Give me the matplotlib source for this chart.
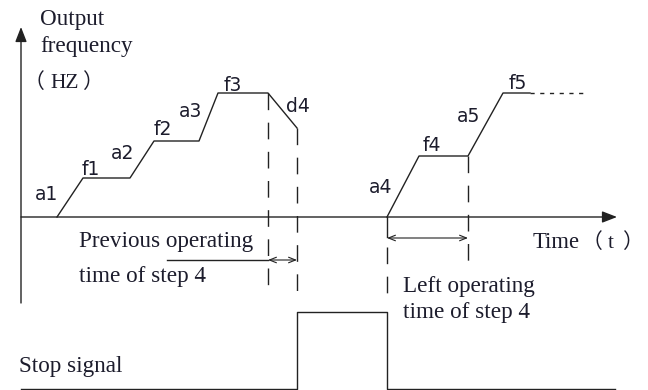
import matplotlib
matplotlib.use("Agg")
import matplotlib.pyplot as plt

# run before the stop signal (time, output frequency)
t_run1 = [36, 62, 109, 133, 178, 197, 247, 276]
f_run1 = [0, 39, 39, 76, 76, 124, 124, 89]
# run after restart
t_run2 = [366, 398, 447, 482, 509]
f_run2 = [0, 61, 61, 124, 124]
t_f5_cont = [509, 563]
f_f5_cont = [124, 124]
# stop signal
t_stop = [0, 276, 276, 366, 366, 594]
v_stop = [-172, -172, -95, -95, -172, -172]

# step labels: (text, time, baseline)
step_labels = ["a1", "f1", "a2", "f2", "a3", "f3", "d4", "a4", "f4", "a5", "f5"]
step_t = [26, 70, 102, 142, 170, 212, 277, 360, 411, 448, 497]
step_f = [17, 42, 58, 82, 100, 126, 105, 24, 66, 95, 128]

ink = "#222222"
txt = "#1c1c2c"
serif = "Liberation Serif"
cjk = ["Noto Sans CJK SC"]

fig = plt.figure(figsize=(6.48, 3.9), dpi=100)
ax = fig.add_axes([0, 0, 1, 1])
ax.set_xlim(-21, 627)
ax.set_ylim(-173, 217)
ax.axis("off")

# axes with arrows
ax.annotate("", xy=(0, 190), xytext=(0, -86),
            arrowprops=dict(arrowstyle="-|>,head_length=0.9,head_width=0.35", color=ink, lw=1.0, shrinkA=0, shrinkB=0))
ax.annotate("", xy=(596, 0), xytext=(0, 0),
            arrowprops=dict(arrowstyle="-|>,head_length=0.9,head_width=0.35", color=ink, lw=1.0, shrinkA=0, shrinkB=0))

# frequency profile
ax.plot(t_run1, f_run1, color=ink, lw=1.0)
ax.plot(t_run2, f_run2, color=ink, lw=1.0)
ax.plot(t_f5_cont, f_f5_cont, color=ink, lw=1.0, linestyle=(0, (3, 4)))
ax.plot(t_stop, v_stop, color=ink, lw=1.0)

# dashed guide lines
dash = (0, (12, 9))
ax.plot([247, 247], [124, -71], color=ink, lw=1.0, linestyle=dash)
ax.plot([276, 276], [89, -83], color=ink, lw=1.0, linestyle=dash)
ax.plot([366, 366], [0, -20], color=ink, lw=1.0)
ax.plot([366, 366], [-30, -83], color=ink, lw=1.0, linestyle=dash)
ax.plot([447, 447], [61, -55], color=ink, lw=1.0, linestyle=dash)

# time spans
ax.plot([146, 247], [-43, -43], color=ink, lw=1.0)
ax.annotate("", xy=(247, -43), xytext=(276, -43),
            arrowprops=dict(arrowstyle="<->,head_length=0.5,head_width=0.2", color=ink, lw=0.8, shrinkA=0, shrinkB=0))
ax.annotate("", xy=(366, -21), xytext=(447, -21),
            arrowprops=dict(arrowstyle="<->,head_length=0.5,head_width=0.2", color=ink, lw=0.8, shrinkA=0, shrinkB=0))

for lab, t, f in zip(step_labels, step_t, step_f):
    ax.text(t, f, lab, fontsize=13.5, family="DejaVu Sans", color=txt, ha="center", va="baseline")

fs = 16.7
ax.text(19, 192, "Output", fontsize=fs, family=serif, color=txt, va="baseline")
ax.text(19, 165, "frequency", fontsize=fs, family=serif, color=txt, va="baseline")
ax.text(3, 129, "（", fontsize=15, family=cjk, color=txt, va="baseline")
ax.text(29, 129, "HZ", fontsize=15.5, family=serif, color=txt, va="baseline")
ax.text(61, 129, "）", fontsize=15, family=cjk, color=txt, va="baseline")

ax.text(512, -31, "Time", fontsize=16.3, family=serif, color=txt, va="baseline")
ax.text(561, -31, "（", fontsize=15, family=cjk, color=txt, va="baseline")
ax.text(587, -31, "t", fontsize=15, family=serif, color=txt, va="baseline")
ax.text(601, -31, "）", fontsize=15, family=cjk, color=txt, va="baseline")

ax.text(58, -30, "Previous operating", fontsize=fs, family=serif, color=txt, va="baseline")
ax.text(58, -65, "time of step 4", fontsize=fs, family=serif, color=txt, va="baseline")
ax.text(382, -75, "Left operating", fontsize=fs, family=serif, color=txt, va="baseline")
ax.text(382, -101, "time of step 4", fontsize=fs, family=serif, color=txt, va="baseline")
ax.text(-2, -155, "Stop signal", fontsize=fs, family=serif, color=txt, va="baseline")

fig.savefig("out.png", dpi=100)
